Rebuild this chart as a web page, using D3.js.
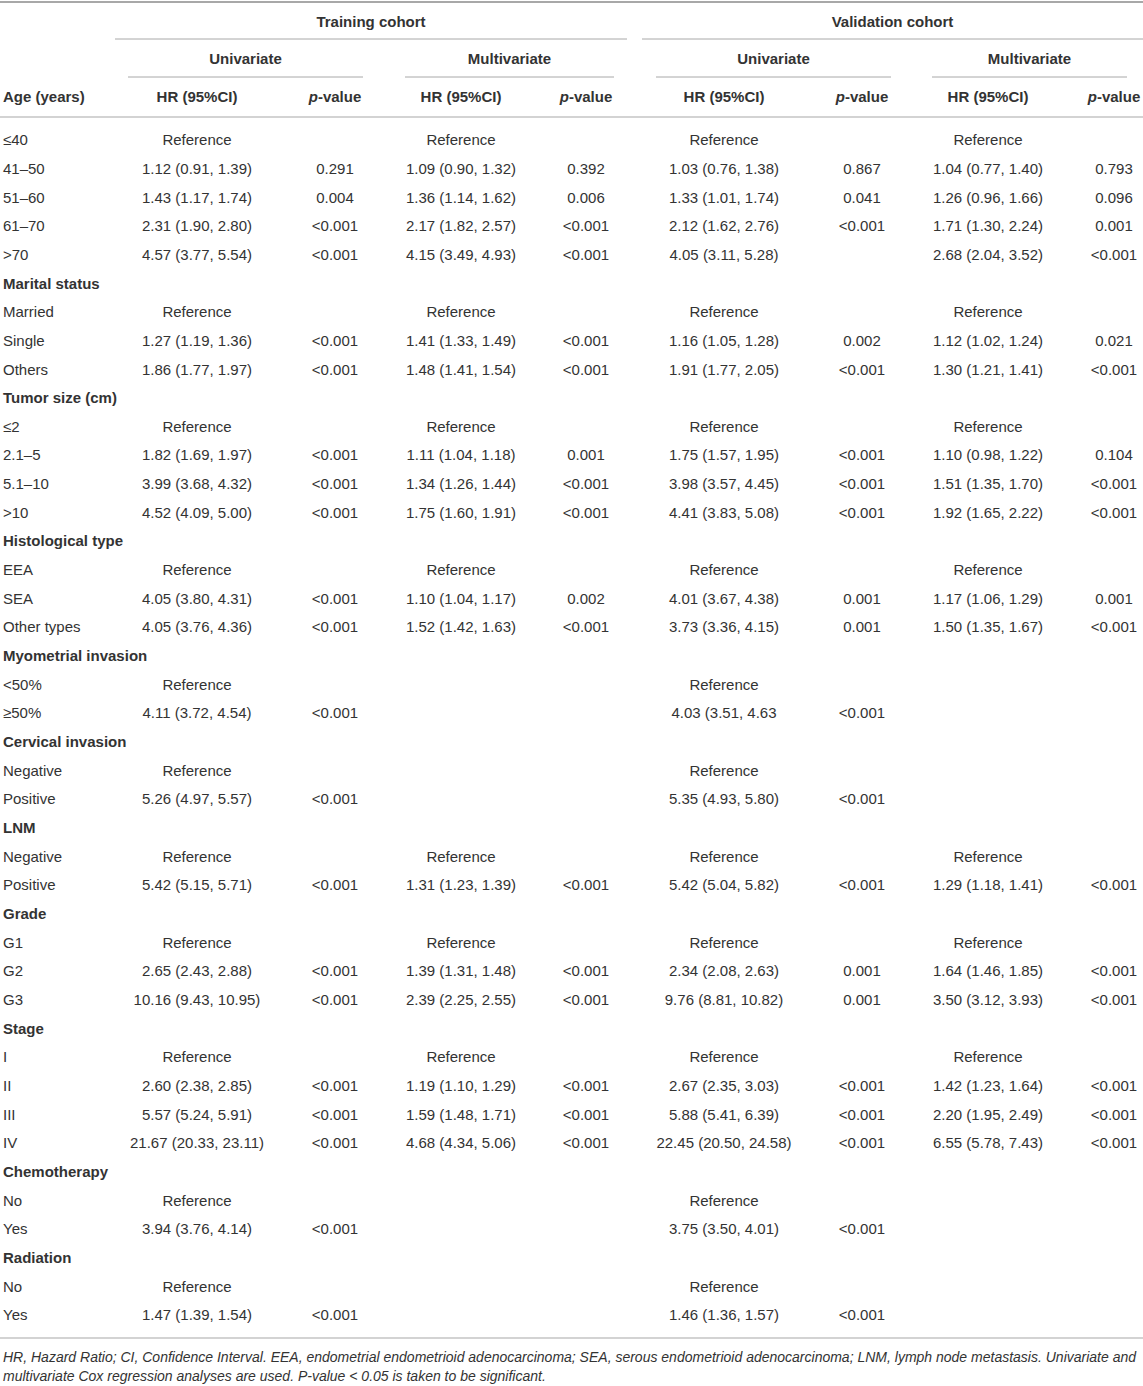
<!DOCTYPE html>
<html>
<head>
<meta charset="utf-8">
<script src="https://cdn.jsdelivr.net/npm/d3@7"></script>
<style>
  body { margin: 0; background: #fff; }
  svg text { font-family: "Liberation Sans", Arial, Helvetica, sans-serif; fill: #333; }
</style>
</head>
<body>
<div id="container"></div>
<script>
/* DATA */
const rowLabels = [
  "≤40", "41–50", "51–60", "61–70", ">70",
  "Marital status", "Married", "Single", "Others",
  "Tumor size (cm)", "≤2", "2.1–5", "5.1–10", ">10",
  "Histological type", "EEA", "SEA", "Other types",
  "Myometrial invasion", "<50%", "≥50%",
  "Cervical invasion", "Negative", "Positive",
  "LNM", "Negative", "Positive",
  "Grade", "G1", "G2", "G3",
  "Stage", "I", "II", "III", "IV",
  "Chemotherapy", "No", "Yes",
  "Radiation", "No", "Yes"
]
const groupRows = ["Marital status", "Tumor size (cm)", "Histological type", "Myometrial invasion",
  "Cervical invasion", "LNM", "Grade", "Stage", "Chemotherapy", "Radiation"]

const R = "Reference"
const trainUniHR = [R, "1.12 (0.91, 1.39)", "1.43 (1.17, 1.74)", "2.31 (1.90, 2.80)", "4.57 (3.77, 5.54)",
  "", R, "1.27 (1.19, 1.36)", "1.86 (1.77, 1.97)",
  "", R, "1.82 (1.69, 1.97)", "3.99 (3.68, 4.32)", "4.52 (4.09, 5.00)",
  "", R, "4.05 (3.80, 4.31)", "4.05 (3.76, 4.36)",
  "", R, "4.11 (3.72, 4.54)",
  "", R, "5.26 (4.97, 5.57)",
  "", R, "5.42 (5.15, 5.71)",
  "", R, "2.65 (2.43, 2.88)", "10.16 (9.43, 10.95)",
  "", R, "2.60 (2.38, 2.85)", "5.57 (5.24, 5.91)", "21.67 (20.33, 23.11)",
  "", R, "3.94 (3.76, 4.14)",
  "", R, "1.47 (1.39, 1.54)"]
const trainUniP = ["", "0.291", "0.004", "<0.001", "<0.001",
  "", "", "<0.001", "<0.001",
  "", "", "<0.001", "<0.001", "<0.001",
  "", "", "<0.001", "<0.001",
  "", "", "<0.001",
  "", "", "<0.001",
  "", "", "<0.001",
  "", "", "<0.001", "<0.001",
  "", "", "<0.001", "<0.001", "<0.001",
  "", "", "<0.001",
  "", "", "<0.001"]
const trainMultiHR = [R, "1.09 (0.90, 1.32)", "1.36 (1.14, 1.62)", "2.17 (1.82, 2.57)", "4.15 (3.49, 4.93)",
  "", R, "1.41 (1.33, 1.49)", "1.48 (1.41, 1.54)",
  "", R, "1.11 (1.04, 1.18)", "1.34 (1.26, 1.44)", "1.75 (1.60, 1.91)",
  "", R, "1.10 (1.04, 1.17)", "1.52 (1.42, 1.63)",
  "", "", "",
  "", "", "",
  "", R, "1.31 (1.23, 1.39)",
  "", R, "1.39 (1.31, 1.48)", "2.39 (2.25, 2.55)",
  "", R, "1.19 (1.10, 1.29)", "1.59 (1.48, 1.71)", "4.68 (4.34, 5.06)",
  "", "", "",
  "", "", ""]
const trainMultiP = ["", "0.392", "0.006", "<0.001", "<0.001",
  "", "", "<0.001", "<0.001",
  "", "", "0.001", "<0.001", "<0.001",
  "", "", "0.002", "<0.001",
  "", "", "",
  "", "", "",
  "", "", "<0.001",
  "", "", "<0.001", "<0.001",
  "", "", "<0.001", "<0.001", "<0.001",
  "", "", "",
  "", "", ""]
const valUniHR = [R, "1.03 (0.76, 1.38)", "1.33 (1.01, 1.74)", "2.12 (1.62, 2.76)", "4.05 (3.11, 5.28)",
  "", R, "1.16 (1.05, 1.28)", "1.91 (1.77, 2.05)",
  "", R, "1.75 (1.57, 1.95)", "3.98 (3.57, 4.45)", "4.41 (3.83, 5.08)",
  "", R, "4.01 (3.67, 4.38)", "3.73 (3.36, 4.15)",
  "", R, "4.03 (3.51, 4.63",
  "", R, "5.35 (4.93, 5.80)",
  "", R, "5.42 (5.04, 5.82)",
  "", R, "2.34 (2.08, 2.63)", "9.76 (8.81, 10.82)",
  "", R, "2.67 (2.35, 3.03)", "5.88 (5.41, 6.39)", "22.45 (20.50, 24.58)",
  "", R, "3.75 (3.50, 4.01)",
  "", R, "1.46 (1.36, 1.57)"]
const valUniP = ["", "0.867", "0.041", "<0.001", "",
  "", "", "0.002", "<0.001",
  "", "", "<0.001", "<0.001", "<0.001",
  "", "", "0.001", "0.001",
  "", "", "<0.001",
  "", "", "<0.001",
  "", "", "<0.001",
  "", "", "0.001", "0.001",
  "", "", "<0.001", "<0.001", "<0.001",
  "", "", "<0.001",
  "", "", "<0.001"]
const valMultiHR = [R, "1.04 (0.77, 1.40)", "1.26 (0.96, 1.66)", "1.71 (1.30, 2.24)", "2.68 (2.04, 3.52)",
  "", R, "1.12 (1.02, 1.24)", "1.30 (1.21, 1.41)",
  "", R, "1.10 (0.98, 1.22)", "1.51 (1.35, 1.70)", "1.92 (1.65, 2.22)",
  "", R, "1.17 (1.06, 1.29)", "1.50 (1.35, 1.67)",
  "", "", "",
  "", "", "",
  "", R, "1.29 (1.18, 1.41)",
  "", R, "1.64 (1.46, 1.85)", "3.50 (3.12, 3.93)",
  "", R, "1.42 (1.23, 1.64)", "2.20 (1.95, 2.49)", "6.55 (5.78, 7.43)",
  "", "", "",
  "", "", ""]
const valMultiP = ["", "0.793", "0.096", "0.001", "<0.001",
  "", "", "0.021", "<0.001",
  "", "", "0.104", "<0.001", "<0.001",
  "", "", "0.001", "<0.001",
  "", "", "",
  "", "", "",
  "", "", "<0.001",
  "", "", "<0.001", "<0.001",
  "", "", "<0.001", "<0.001", "<0.001",
  "", "", "",
  "", "", ""]

const columns = ["trainUniHR", "trainUniP", "trainMultiHR", "trainMultiP",
  "valUniHR", "valUniP", "valMultiHR", "valMultiP"]
const columnValues = [trainUniHR, trainUniP, trainMultiHR, trainMultiP,
  valUniHR, valUniP, valMultiHR, valMultiP]

const cohorts = ["Training cohort", "Validation cohort"]
const analyses = ["Univariate", "Multivariate", "Univariate", "Multivariate"]

const footnote = [
  "HR, Hazard Ratio; CI, Confidence Interval. EEA, endometrial endometrioid adenocarcinoma; SEA, serous endometrioid adenocarcinoma; LNM, lymph node metastasis. Univariate and",
  "multivariate Cox regression analyses are used. P-value < 0.05 is taken to be significant."
]

/* CONSTANTS */
const width = 1143, height = 1386
const lineColor = "#a8a8a8"

/* SCALES */
// x position of each value column (centre)
const xCol = d3.scaleOrdinal()
  .domain(columns)
  .range([197, 335, 461, 586, 724, 862, 988, 1114])

// y of each body row
const yRow = d3.scaleLinear()
  .domain([0, rowLabels.length - 1])
  .range([140, 1315])

// spans for the header rules
const cohortSpan = [[115, 627], [642, 1143]]
const analysisSpan = [[128, 363], [405, 614], [656, 891], [932, 1127]]

/* SVG */
const svg = d3.select("#container")
  .append("svg")
  .attr("width", width)
  .attr("height", height)

// horizontal rules
const hline = (x1, x2, y, w) => svg.append("line")
  .attr("x1", x1).attr("x2", x2)
  .attr("y1", y).attr("y2", y)
  .attr("stroke", lineColor)
  .attr("stroke-width", w)

hline(0, width, 2, 2)
cohortSpan.forEach(s => hline(s[0], s[1], 39, 1))
analysisSpan.forEach(s => hline(s[0], s[1], 77, 1))
hline(0, width, 117, 1.2)
hline(0, width, 1338, 1.2)

// cohort headers
svg.selectAll(".cohort")
  .data(cohorts)
  .join("text")
  .attr("class", "cohort")
  .attr("x", (d, i) => (cohortSpan[i][0] + cohortSpan[i][1]) / 2)
  .attr("y", 22)
  .attr("dy", "0.35em")
  .attr("text-anchor", "middle")
  .attr("font-size", 15)
  .attr("font-weight", "bold")
  .text(d => d)

// analysis headers
svg.selectAll(".analysis")
  .data(analyses)
  .join("text")
  .attr("class", "analysis")
  .attr("x", (d, i) => (analysisSpan[i][0] + analysisSpan[i][1]) / 2)
  .attr("y", 59)
  .attr("dy", "0.35em")
  .attr("text-anchor", "middle")
  .attr("font-size", 15)
  .attr("font-weight", "bold")
  .text(d => d)

// column headers
svg.append("text")
  .attr("x", 3).attr("y", 97).attr("dy", "0.35em")
  .attr("font-size", 15).attr("font-weight", "bold")
  .text("Age (years)")

const colHeads = svg.selectAll(".colhead")
  .data(columns)
  .join("text")
  .attr("class", "colhead")
  .attr("x", d => xCol(d))
  .attr("y", 97)
  .attr("dy", "0.35em")
  .attr("text-anchor", "middle")
  .attr("font-size", 15)
  .attr("font-weight", "bold")

colHeads.filter(d => d.endsWith("HR")).text("HR (95%CI)")
colHeads.filter(d => d.endsWith("P")).each(function () {
  const t = d3.select(this)
  t.append("tspan").attr("font-style", "italic").text("p")
  t.append("tspan").text("-value")
})

// row labels
svg.selectAll(".rowlabel")
  .data(rowLabels)
  .join("text")
  .attr("class", "rowlabel")
  .attr("x", 3)
  .attr("y", (d, i) => yRow(i))
  .attr("dy", "0.35em")
  .attr("font-size", 15)
  .attr("font-weight", (d, i) => groupRows.includes(d) && i > 0 ? "bold" : "normal")
  .text(d => d)

// cells
columns.forEach((c, ci) => {
  svg.selectAll(".cell-" + c)
    .data(columnValues[ci])
    .join("text")
    .attr("class", "cell-" + c)
    .attr("x", xCol(c))
    .attr("y", (d, i) => yRow(i))
    .attr("dy", "0.35em")
    .attr("text-anchor", "middle")
    .attr("font-size", 15)
    .text(d => d)
})

// footnote
svg.selectAll(".foot")
  .data(footnote)
  .join("text")
  .attr("class", "foot")
  .attr("x", 3)
  .attr("y", (d, i) => 1357 + i * 19)
  .attr("dy", "0.35em")
  .attr("font-size", 14)
  .attr("font-style", "italic")
  .text(d => d)
</script>
</body>
</html>
